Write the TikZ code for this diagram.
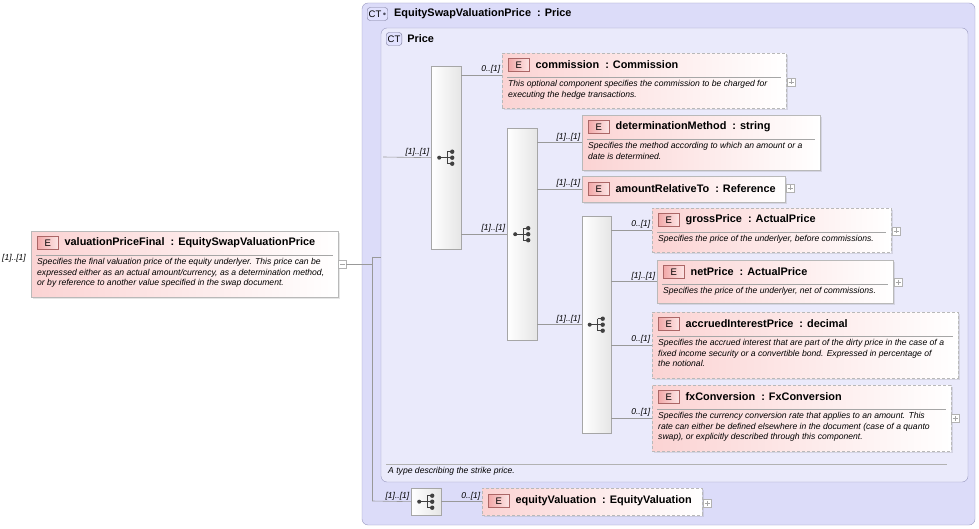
\documentclass[tikz,border=0pt]{standalone}
\usepackage{fontspec}
\setmainfont{Liberation Sans}
\usetikzlibrary{calc,positioning,shadows}

\definecolor{ctfill}{HTML}{DCDCF9}
\definecolor{ctline}{HTML}{9A9AC0}
\definecolor{epink}{HTML}{FBD3D3}
\definecolor{eline}{HTML}{B9B9B9}
\definecolor{badge}{HTML}{F2A8A8}

\tikzset{
  elem/.style={draw=eline, left color=epink, right color=white, inner sep=0pt,
    drop shadow={opacity=0.2, shadow xshift=1.5pt, shadow yshift=-1.5pt}},
  opt/.style={dashed, dash pattern=on 3pt off 2pt},
  ebadge/.style={draw=red!45!black!60, left color=badge, right color=epink!60, minimum width=21pt, minimum height=13pt,
    inner sep=0pt, font=\fontsize{9.5}{9.5}\selectfont},
  etitle/.style={font=\fontsize{10.9}{12}\selectfont\bfseries, inner sep=0pt, anchor=west},
  edesc/.style={font=\fontsize{8.6}{10.6}\selectfont\itshape, inner sep=0pt, align=flush left,
    anchor=north west},
  seq/.style={draw=gray!70, left color=white, right color=gray!20, inner sep=0pt, anchor=north west},
  card/.style={font=\fontsize{8.5}{8.5}\selectfont\itshape, inner sep=1.5pt},
  ctbadge/.style={draw=ctline!80!black, fill=ctfill!70!blue!30, rounded corners=3pt,
    inner sep=1.5pt, minimum height=13pt, font=\fontsize{9.5}{9.5}\selectfont},
  cttitle/.style={font=\fontsize{10.9}{12}\selectfont\bfseries, inner sep=0pt, anchor=west},
  link/.style={draw=gray!80, line width=0.6pt},
  expander/.style={draw=gray!60, fill=white, minimum size=8pt, inner sep=0pt},
}

% box with title and description
\newcommand\elembox[8]{%
  \node[elem,#6,minimum width={(#4-#2)*1pt},minimum height={(#5-#3)*1pt},anchor=north west] (#1) at (#2,#3) {};
  \node[ebadge,anchor=west] (#1-e) at ($(#1.north west)+(6,12)$) {E};
  \node[etitle,right=6pt of #1-e] (#1-t) {#7};
  \draw[gray!70] ($(#1.north west)+(5,24)$) -- ($(#1.north east)+(-5,24)$);
  \node[edesc,text width={(#4-#2-20)*1pt}] (#1-d) at ($(#1.north west)+(6,27)$) {#8};
}
% box with title only
\newcommand\elemshort[7]{%
  \node[elem,#6,minimum width={(#4-#2)*1pt},minimum height={(#5-#3)*1pt},anchor=north west] (#1) at (#2,#3) {};
  \node[ebadge,anchor=west] (#1-e) at ($(#1.north west)+(6,13)$) {E};
  \node[etitle,right=6pt of #1-e] (#1-t) {#7};
}
\newcommand\seqicon[1]{%
  \draw[black!75,line width=0.9pt] ($(#1)+(-8,0)$) -- ($(#1)+(0,0)$)
    ($(#1)+(0,-6)$) -- ($(#1)+(0,6)$)
    ($(#1)+(0,-6)$) -- ($(#1)+(5,-6)$) ($(#1)+(0,6)$) -- ($(#1)+(5,6)$) ($(#1)+(0,0)$) -- ($(#1)+(5,0)$);
  \fill[black!75] ($(#1)+(-8,0)$) circle (2pt) ($(#1)+(5,-6)$) circle (2.2pt)
    ($(#1)+(5,0)$) circle (2.2pt) ($(#1)+(5,6)$) circle (2.2pt);
}
\newcommand\plusbox[2]{%
  \node[expander] (#1) at (#2) {};
  \draw[gray!70] ($(#1)+(-2.5,0)$) -- ($(#1)+(2.5,0)$) ($(#1)+(0,-2.5)$) -- ($(#1)+(0,2.5)$);
}

\begin{document}
\begin{tikzpicture}[x=1pt,y=-1pt]
  \useasboundingbox (0,0) rectangle (979,529);

  % complex types
  \draw[ctline, fill=ctfill, rounded corners=6pt] (362,3) rectangle (975,525);
  \node[ctbadge,anchor=west] (ctA) at (367,14) {CT\,\textcolor{ctline!50!black}{\textbullet}};
  \node[cttitle,right=6pt of ctA] (ctA-t) {EquitySwapValuationPrice\ \ : Price};
  \draw[ctline, fill=ctfill!60!white, rounded corners=6pt] (381,28) rectangle (968,482);
  \node[ctbadge,anchor=west] (ctB) at (386,39) {CT};
  \node[cttitle,right=5pt of ctB] (ctB-t) {Price};
  \draw[gray!60] (386,464) -- (947,464);
  \node[edesc] (ctB-d) at (388,467) {A type describing the strike price.};

  % sequences
  \node[seq,minimum width=30pt,minimum height=183pt] (s1) at (431,66) {};
  \node[seq,minimum width=30pt,minimum height=212pt] (s2) at (507,128) {};
  \node[seq,minimum width=29pt,minimum height=217pt] (s3) at (582,216) {};
  \node[seq,minimum width=30pt,minimum height=27pt] (s4) at (411,488) {};
  \seqicon{$(s1)+(1,0)$} \seqicon{$(s2)+(1,0)$} \seqicon{$(s3)+(1,0)$} \seqicon{$(s4)+(1,0)$}

  % elements
  \elembox{root}{31}{231}{338}{297}{}{valuationPriceFinal\ \ : EquitySwapValuationPrice}{Specifies the final valuation price of the equity underlyer. This price can be expressed either as an actual amount/currency, as a determination method, or by reference to another value specified in the swap document.}
  \elembox{com}{502}{53}{786}{108}{opt}{commission\ \ : Commission}{This optional component specifies the commission to be charged for executing the hedge transactions.}
  \elembox{det}{582}{115}{820}{170}{}{determinationMethod\ \ : string}{Specifies the method according to which an amount or a date is determined.}
  \elemshort{amt}{582}{176}{785}{202}{}{amountRelativeTo\ \ : Reference}
  \elembox{gross}{652}{208}{891}{252}{opt}{grossPrice\ \ : ActualPrice}{Specifies the price of the underlyer, before commissions.}
  \elembox{net}{657}{260}{893}{303}{}{netPrice\ \ : ActualPrice}{Specifies the price of the underlyer, net of commissions.}
  \elembox{acc}{652}{312}{958}{378}{opt}{accruedInterestPrice\ \ : decimal}{Specifies the accrued interest that are part of the dirty price in the case of a fixed income security or a convertible bond. Expressed in percentage of the notional.}
  \elembox{fx}{652}{385}{951}{451}{opt}{fxConversion\ \ : FxConversion}{Specifies the currency conversion rate that applies to an amount. This rate can either be defined elsewhere in the document (case of a quanto swap), or explicitly described through this component.}
  \elemshort{eqv}{482}{488}{702}{515}{opt}{equityValuation\ \ : EquityValuation}

  % expanders
  \plusbox{p1}{791,82} \plusbox{p2}{790,188} \plusbox{p3}{896,231} \plusbox{p4}{898,282}
  \plusbox{p5}{955,418} \plusbox{p6}{707,503}
  \node[expander] (m1) at (342,264) {};
  \draw[gray!70] ($(m1)+(-2.5,0)$) -- ($(m1)+(2.5,0)$);
  \node[card] (rc) at (14,258) {[1]..[1]};

  % connectors
  \coordinate (j) at (372,264);
  \coordinate (jt) at (372,257);
  \coordinate (jb) at (372,501);
  \coordinate (pin) at (381,257);
  \coordinate (pin2) at (383,157);
  \draw[link] (m1) -- (j) (jt) -- (jb) (jt) -- (pin);
  \draw[link] (jb) -- (s4.west) node[card,above left] {[1]..[1]};
  \draw[link] (s4.east) -- (eqv.west) node[card,above left] {0..[1]};
  \draw[link] (pin2) -- (s1.west) node[card,above left] {[1]..[1]};
  \draw[link] (s1.east |- 0,75) -- (com.west |- 0,75) node[card,above left] {0..[1]};
  \draw[link] (s1.east |- s2.west) -- (s2.west) node[card,above left] {[1]..[1]};
  \draw[link] (s2.east |- det.west) -- (det.west) node[card,above left] {[1]..[1]};
  \draw[link] (s2.east |- amt.west) -- (amt.west) node[card,above left] {[1]..[1]};
  \draw[link] (s2.east |- s3.west) -- (s3.west) node[card,above left] {[1]..[1]};
  \draw[link] (s3.east |- gross.west) -- (gross.west) node[card,above left] {0..[1]};
  \draw[link] (s3.east |- net.west) -- (net.west) node[card,above left] {[1]..[1]};
  \draw[link] (s3.east |- acc.west) -- (acc.west) node[card,above left] {0..[1]};
  \draw[link] (s3.east |- fx.west) -- (fx.west) node[card,above left] {0..[1]};
\end{tikzpicture}
\end{document}
